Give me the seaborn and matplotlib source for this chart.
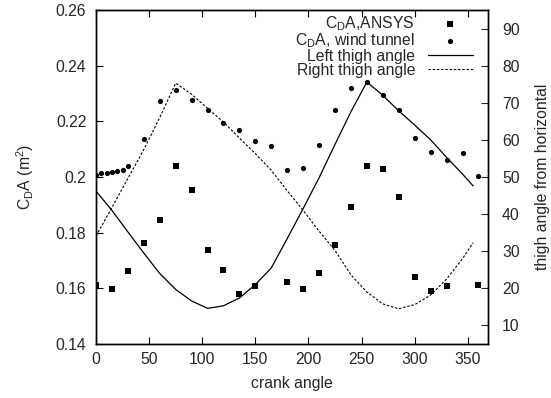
import numpy as np
import pandas as pd
import matplotlib
matplotlib.use("Agg")
import matplotlib.pyplot as plt
from matplotlib.ticker import FormatStrFormatter
import seaborn as sns

# ---- data ----
ansys_angle = [0, 15, 30, 45, 60, 75, 90, 105, 120, 135, 150, 180, 195, 210, 225,
               240, 255, 270, 285, 300, 315, 330, 360]
ansys_cda = [0.1612, 0.1597, 0.1662, 0.1763, 0.1847, 0.2041, 0.1954, 0.1739, 0.1667,
             0.1581, 0.1609, 0.1624, 0.1597, 0.1656, 0.1757, 0.1893, 0.2041, 0.2029,
             0.1927, 0.1642, 0.1591, 0.1609, 0.1612]

wt_angle = [0, 5, 10, 15, 20, 25, 30, 45, 60, 75, 90, 105, 120, 135, 150, 165, 180,
            195, 210, 225, 240, 255, 270, 285, 300, 315, 330, 345, 360]
wt_cda = [0.2007, 0.2013, 0.2016, 0.2018, 0.2020, 0.2026, 0.2038, 0.2138, 0.2272,
          0.2314, 0.2278, 0.2242, 0.2194, 0.2169, 0.2128, 0.2111, 0.2025, 0.2033,
          0.2116, 0.2242, 0.2321, 0.2341, 0.2293, 0.2240, 0.2139, 0.2091, 0.2061,
          0.2085, 0.2002]

thigh_angle = [0, 15, 30, 45, 60, 75, 90, 105, 120, 135, 150, 165, 180, 195, 210,
               225, 240, 255, 270, 285, 300, 315, 330, 345, 355]
left_thigh = [46.2, 41.0, 35.2, 29.5, 24.0, 19.7, 16.6, 14.6, 15.3, 17.4, 21.0, 25.5,
              33.4, 41.5, 49.8, 58.8, 67.6, 75.6, 72.0, 67.8, 64.0, 60.0, 55.3, 50.8,
              47.6]
right_thigh = [34.1, 41.8, 49.6, 57.4, 66.0, 75.3, 72.3, 68.5, 64.8, 60.5, 56.3, 51.8,
               46.3, 41.0, 35.4, 30.2, 23.6, 19.0, 15.8, 14.5, 15.6, 18.2, 22.5, 28.0,
               32.3]

x_ticks = [0, 50, 100, 150, 200, 250, 300, 350]
y_left_ticks = [0.14, 0.16, 0.18, 0.20, 0.22, 0.24, 0.26]
y_right_ticks = [10, 20, 30, 40, 50, 60, 70, 80, 90]

FS = 11.3

sns.set_style("ticks")
plt.rcParams['font.family'] = ['Liberation Sans', 'DejaVu Sans']
plt.rcParams['font.size'] = FS
plt.rcParams['mathtext.fontset'] = 'custom'
plt.rcParams['mathtext.rm'] = 'Liberation Sans'
plt.rcParams['mathtext.it'] = 'Liberation Sans'

fig = plt.figure(figsize=(5.51, 3.98), dpi=100)
ax = fig.add_axes([96/551, 1-344/398, (488-96)/551, (344-10)/398])
ax2 = ax.twinx()

df_a = pd.DataFrame({"angle": ansys_angle, "cda": ansys_cda})
df_w = pd.DataFrame({"angle": wt_angle, "cda": wt_cda})
df_t = pd.DataFrame({"angle": thigh_angle, "left": left_thigh, "right": right_thigh})

sns.scatterplot(data=df_a, x="angle", y="cda", ax=ax, marker="s", s=24, color="black",
                linewidth=0, label=r"C$_\mathregular{D}$A,ANSYS", legend=False)
sns.scatterplot(data=df_w, x="angle", y="cda", ax=ax, marker="o", s=14, color="black",
                linewidth=0, label=r"C$_\mathregular{D}$A, wind tunnel", legend=False)
sns.lineplot(data=df_t, x="angle", y="left", ax=ax2, color="black", linewidth=0.9,
             label="Left thigh angle", legend=False)
sns.lineplot(data=df_t, x="angle", y="right", ax=ax2, color="black", linewidth=0.8,
             linestyle=(0, (2.2, 1.6)), label="Right thigh angle", legend=False)

ax.set_xlim(0, 369)
ax.set_ylim(0.14, 0.26)
ax2.set_ylim(5, 95)
ax.set_xticks(x_ticks)
ax.set_yticks(y_left_ticks)
ax2.set_yticks(y_right_ticks)
ax.yaxis.set_major_formatter(FormatStrFormatter('%g'))

ax.tick_params(axis='x', direction='in', length=5, width=0.8, top=True,
               labelsize=FS, pad=6, color='black')
ax.tick_params(axis='y', direction='in', length=5, width=0.8, right=False,
               labelsize=FS, pad=7, color='black')
ax2.tick_params(axis='y', direction='in', length=5, width=0.8, labelsize=FS, pad=10)
for a in (ax, ax2):
    for s in a.spines.values():
        s.set_linewidth(1.0)
        s.set_color('black')

ax.set_xlabel("crank angle", fontsize=FS, labelpad=6)
ax.set_ylabel(r"C$_\mathregular{D}$A (m$^\mathregular{2}$)", fontsize=FS, labelpad=14)
ax2.set_ylabel("thigh angle from horizontal", fontsize=FS, labelpad=11)

h1, l1 = ax.get_legend_handles_labels()
h2, l2 = ax2.get_legend_handles_labels()
leg = ax2.legend(h1 + h2, l1 + l2, loc='upper right', bbox_to_anchor=(1 - 11/392, 1),
                 markerfirst=False, frameon=False,
                 handlelength=2.9, handletextpad=0.8, labelspacing=-0.08,
                 borderaxespad=0.15, borderpad=0.1, fontsize=FS)

fig.savefig("out.png", dpi=100)
